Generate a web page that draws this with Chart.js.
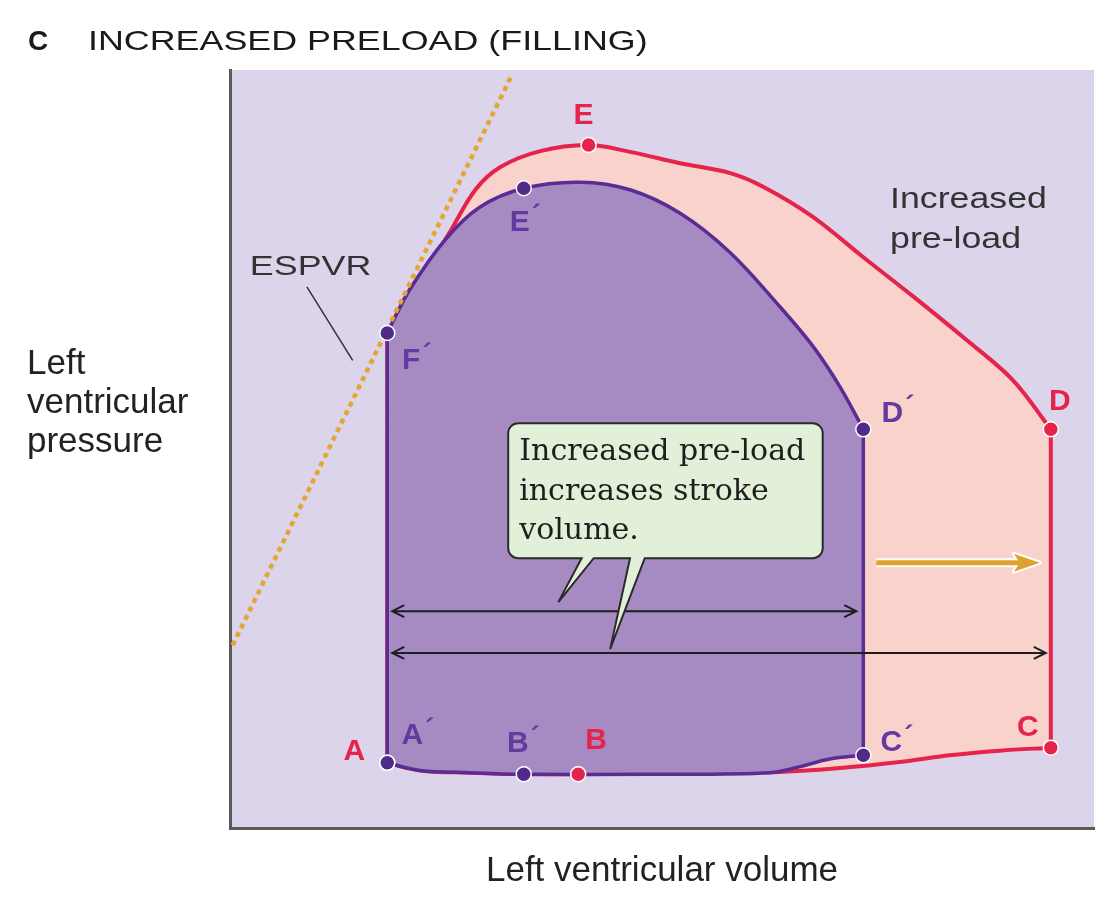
<!DOCTYPE html>
<html>
<head>
<meta charset="utf-8">
<title>Increased preload (filling)</title>
<script src="https://cdn.jsdelivr.net/npm/chart.js@4.4.1/dist/chart.umd.min.js"></script>
<style>
  html, body { margin: 0; padding: 0; background: #fff; }
  #wrap { width: 1116px; height: 898px; position: relative; }
</style>
</head>
<body>
<div id="wrap"><canvas id="pvLoopCanvas"></canvas></div>
<script>
// volume / pressure in arbitrary units (0-100)
const baseLoopVolume   = [18.2, 22.0, 27.8, 34.0, 48.6, 62.5, 66.0, 69.4, 73.3, 73.3, 73.3, 73.3, 70.6, 67.5, 63.7, 57.9, 52.1, 46.3, 40.5, 34.0, 28.9, 24.9, 20.8, 18.2, 18.2, 18.2];
const baseLoopPressure = [8.6, 7.6, 7.3, 7.1, 7.1, 7.3, 8.1, 9.1, 9.6, 9.6, 52.6, 52.6, 58.2, 63.5, 68.7, 75.9, 81.1, 84.2, 85.2, 84.4, 81.9, 77.6, 71.0, 65.3, 65.3, 8.6];

const preloadLoopVolume   = [18.2, 22.0, 27.8, 34.0, 40.3, 54.4, 63.7, 70.6, 77.5, 83.3, 89.1, 95.0, 95.0, 95.0, 95.0, 90.6, 84.8, 79.1, 73.3, 67.5, 61.7, 57.9, 52.1, 46.3, 41.5, 35.9, 31.3, 28.4, 24.9, 20.8, 18.2, 18.2, 18.2];
const preloadLoopPressure = [8.6, 7.6, 7.3, 7.1, 7.1, 7.3, 7.4, 7.9, 8.7, 9.6, 10.2, 10.6, 10.6, 52.6, 52.6, 59.1, 64.8, 70.1, 75.3, 80.6, 84.6, 86.4, 87.7, 89.2, 90.1, 89.3, 87.2, 84.2, 77.6, 71.0, 65.3, 65.3, 8.6];

const espvrVolume   = [0.3, 32.6];
const espvrPressure = [24.1, 99.3];

const baseMarkerLabels   = ['A', 'B', 'C', 'D', 'E', 'F'];
const baseMarkerVolume   = [18.2, 34.0, 73.3, 73.3, 34.0, 18.2];
const baseMarkerPressure = [8.6, 7.1, 9.6, 52.6, 84.4, 65.3];

const preloadMarkerLabels   = ['A', 'B', 'C', 'D', 'E'];
const preloadMarkerVolume   = [18.2, 40.3, 95.0, 95.0, 41.5];
const preloadMarkerPressure = [8.6, 7.1, 10.6, 52.6, 90.1];

const calloutLines = ['Increased pre-load', 'increases stroke', 'volume.'];

const RED = '#E5234B';
const PURPLE = '#5B2C93';
const PURPLE_TEXT = '#66399E';

function toPoints(xs, ys) {
  return xs.map((v, i) => ({ x: v, y: ys[i] }));
}

function stretchedText(ctx, text, x, y, stretch) {
  ctx.save();
  ctx.translate(x, y);
  ctx.scale(stretch, 1);
  ctx.fillText(text, 0, 0);
  ctx.restore();
}

function drawDoubleArrow(ctx, x1, x2, y) {
  ctx.save();
  ctx.strokeStyle = '#1e1e1e';
  ctx.lineWidth = 2;
  ctx.beginPath();
  ctx.moveTo(x1, y); ctx.lineTo(x2, y);
  ctx.moveTo(x1 + 12, y - 6); ctx.lineTo(x1, y); ctx.lineTo(x1 + 12, y + 6);
  ctx.moveTo(x2 - 12, y - 6); ctx.lineTo(x2, y); ctx.lineTo(x2 - 12, y + 6);
  ctx.stroke();
  ctx.restore();
}

function drawGoldArrow(ctx, x1, x2, y) {
  const head = [[x2, y], [x2 - 26, y - 9], [x2 - 20, y], [x2 - 26, y + 9]];
  ctx.save();
  // white halo first
  ctx.strokeStyle = '#fff';
  ctx.lineWidth = 9;
  ctx.beginPath(); ctx.moveTo(x1, y); ctx.lineTo(x2 - 20, y); ctx.stroke();
  ctx.lineWidth = 4;
  ctx.lineJoin = 'round';
  ctx.beginPath();
  head.forEach((p, i) => i ? ctx.lineTo(p[0], p[1]) : ctx.moveTo(p[0], p[1]));
  ctx.closePath(); ctx.stroke();
  ctx.strokeStyle = '#DDA32C';
  ctx.fillStyle = '#DDA32C';
  ctx.lineWidth = 5;
  ctx.beginPath(); ctx.moveTo(x1, y); ctx.lineTo(x2 - 20, y); ctx.stroke();
  ctx.beginPath();
  head.forEach((p, i) => i ? ctx.lineTo(p[0], p[1]) : ctx.moveTo(p[0], p[1]));
  ctx.closePath(); ctx.fill();
  ctx.restore();
}

// label offsets in px from the marker (letter centre)
const labelOffsets = {
  base: { A: [25, -27], B: [-6, -30], C: [28, -12], D: [29, -16], E: [-4, 34], F: [24, 28] },
  preload: { A: [-33, -11], B: [18, -33], C: [-23, -20], D: [9, -28], E: [-5, -29] }
};

const diagramExtras = {
  id: 'diagramExtras',
  beforeDraw(chart) {
    const { ctx, chartArea: a } = chart;
    ctx.save();
    ctx.fillStyle = '#DCD4EA';
    ctx.fillRect(a.left, a.top, a.right - a.left, a.bottom - a.top);
    ctx.restore();
  },
  afterDatasetsDraw(chart) {
    const { ctx } = chart;
    const x = chart.scales.x, y = chart.scales.y;
    const px = v => x.getPixelForValue(v);
    const py = v => y.getPixelForValue(v);

    // marker letters
    ctx.save();
    ctx.font = 'bold 30px "Liberation Sans", Arial, sans-serif';
    ctx.textBaseline = 'middle';
    ctx.textAlign = 'left';
    [[0, baseMarkerLabels, 'base', PURPLE_TEXT, true], [1, preloadMarkerLabels, 'preload', RED, false]].forEach(([di, labels, key, color, primed]) => {
      const meta = chart.getDatasetMeta(di);
      meta.data.forEach((pt, i) => {
        const letter = labels[i];
        const off = labelOffsets[key][letter];
        const w = ctx.measureText(letter).width;
        const lx = pt.x + off[0] - w / 2, ly = pt.y + off[1];
        ctx.fillStyle = color;
        ctx.fillText(letter, lx, ly);
        if (primed) {
          ctx.save();
          ctx.font = 'bold 28px "Liberation Sans", Arial, sans-serif';
          ctx.fillText('\u00B4', lx + w + 2, ly - 6);
          ctx.restore();
        }
      });
    });
    ctx.restore();

    // stroke volume arrows, end-systolic to end-diastolic volume
    drawDoubleArrow(ctx, px(baseMarkerVolume[0]) + 5, px(baseMarkerVolume[2]) - 7, py(28.6));
    drawDoubleArrow(ctx, px(preloadMarkerVolume[0]) + 5, px(preloadMarkerVolume[2]) - 5, py(23.1));
    drawGoldArrow(ctx, px(baseMarkerVolume[3]) + 13, px(preloadMarkerVolume[3]) - 11, py(35.0));

    // callout bubble
    const L = px(32.2), R = px(68.6), T = py(53.4), B = py(35.6), r = 10;
    const tails = [[px(40.7), px(42.1), px(38.0), py(29.8)], [px(46.3), px(48.0), px(44.0), py(23.6)]];
    ctx.save();
    ctx.beginPath();
    ctx.moveTo(L + r, T);
    ctx.arcTo(R, T, R, B, r);
    ctx.arcTo(R, B, L, B, r);
    for (let i = tails.length - 1; i >= 0; i--) {
      const t = tails[i];
      ctx.lineTo(t[1], B); ctx.lineTo(t[2], t[3]); ctx.lineTo(t[0], B);
    }
    ctx.arcTo(L, B, L, T, r);
    ctx.arcTo(L, T, R, T, r);
    ctx.closePath();
    ctx.fillStyle = '#E3F0D9';
    ctx.fill();
    ctx.strokeStyle = '#2a2a2a';
    ctx.lineWidth = 2;
    ctx.lineJoin = 'miter';
    ctx.stroke();
    ctx.fillStyle = '#1e1e1e';
    ctx.font = '30px "DejaVu Serif", serif';
    ctx.textBaseline = 'middle';
    calloutLines.forEach((line, i) => ctx.fillText(line, L + 11, T + 29 + i * 39.5));
    ctx.restore();

    // ESPVR label + leader
    ctx.save();
    ctx.strokeStyle = '#333';
    ctx.lineWidth = 1.5;
    ctx.beginPath();
    ctx.moveTo(px(8.9), py(71.4));
    ctx.lineTo(px(14.2), py(61.7));
    ctx.stroke();
    ctx.fillStyle = '#333';
    ctx.textBaseline = 'middle';
    ctx.font = '28px "Liberation Sans", Arial, sans-serif';
    stretchedText(ctx, 'ESPVR', px(2.3), py(74.0), 1.28);
    ctx.font = '30px "Liberation Sans", Arial, sans-serif';
    stretchedText(ctx, 'Increased', px(76.4), py(82.9), 1.19);
    stretchedText(ctx, 'pre-load', px(76.4), py(77.6), 1.19);
    ctx.restore();
  },
  afterDraw(chart) {
    const { ctx } = chart;
    ctx.save();
    ctx.fillStyle = '#1a1a1a';
    ctx.textBaseline = 'alphabetic';
    ctx.font = 'bold 28px "Liberation Sans", Arial, sans-serif';
    ctx.fillText('C', 28, 50);
    ctx.font = '28px "Liberation Sans", Arial, sans-serif';
    stretchedText(ctx, 'INCREASED PRELOAD (FILLING)', 88, 50, 1.28);
    ctx.fillStyle = '#222';
    ctx.font = '35px "Liberation Sans", Arial, sans-serif';
    ['Left', 'ventricular', 'pressure'].forEach((t, i) => ctx.fillText(t, 27, 374 + i * 39));
    ctx.restore();
  }
};

const ctx = document.getElementById('pvLoopCanvas').getContext('2d');
new Chart(ctx, {
  type: 'line',
  data: {
    datasets: [
      {
        label: 'Baseline points',
        data: toPoints(baseMarkerVolume, baseMarkerPressure),
        showLine: false,
        pointRadius: 7.5,
        pointBackgroundColor: '#4F2A88',
        pointBorderColor: '#fff',
        pointBorderWidth: 1.5
      },
      {
        label: 'Increased preload points',
        data: toPoints(preloadMarkerVolume, preloadMarkerPressure),
        showLine: false,
        pointRadius: 7.5,
        pointBackgroundColor: RED,
        pointBorderColor: '#fff',
        pointBorderWidth: 1.5
      },
      {
        label: 'ESPVR',
        data: toPoints(espvrVolume, espvrPressure),
        borderColor: '#E2A631',
        borderWidth: 4.5,
        borderDash: [5, 4.5],
        pointRadius: 0,
        tension: 0,
        fill: false
      },
      {
        label: 'Baseline loop',
        data: toPoints(baseLoopVolume, baseLoopPressure),
        borderColor: PURPLE,
        backgroundColor: '#A58BC2',
        borderWidth: 3.5,
        borderJoinStyle: 'round',
        pointRadius: 0,
        tension: 0.35,
        fill: 'shape'
      },
      {
        label: 'Increased preload loop',
        data: toPoints(preloadLoopVolume, preloadLoopPressure),
        borderColor: RED,
        backgroundColor: '#F9D3CB',
        borderWidth: 4,
        borderJoinStyle: 'round',
        pointRadius: 0,
        tension: 0.35,
        fill: 'shape'
      }
    ]
  },
  options: {
    responsive: true,
    maintainAspectRatio: false,
    animation: false,
    events: [],
    layout: { padding: { left: 230, right: 22, top: 70, bottom: 2 } },
    plugins: {
      legend: { display: false },
      tooltip: { enabled: false }
    },
    scales: {
      x: {
        type: 'linear',
        min: 0,
        max: 100,
        grid: { display: false, drawTicks: false },
        ticks: { display: false },
        border: { display: true, color: '#5a5a5a', width: 3 },
        title: {
          display: true,
          text: 'Left ventricular volume',
          color: '#222',
          font: { family: '"Liberation Sans", Arial, sans-serif', size: 35 },
          padding: { top: 22, bottom: 4 }
        }
      },
      y: {
        type: 'linear',
        min: 0,
        max: 100,
        grid: { display: false, drawTicks: false },
        ticks: { display: false },
        border: { display: true, color: '#5a5a5a', width: 3 }
      }
    }
  },
  plugins: [diagramExtras]
});
</script>
</body>
</html>
